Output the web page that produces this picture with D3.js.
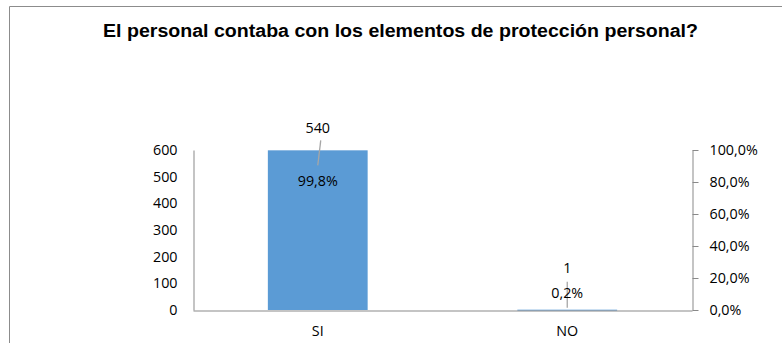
<!DOCTYPE html>
<html><head><meta charset="utf-8">
<script src="https://cdn.jsdelivr.net/npm/d3@7"></script>
<style>
html,body{margin:0;padding:0;background:#fff;}
svg{display:block;}
</style></head>
<body>
<script>
const categories = ["SI", "NO"];
const counts = [540, 1];
const percents = [99.8, 0.2];
const leftTicks = [0, 100, 200, 300, 400, 500, 600];
const rightTicks = [0, 20, 40, 60, 80, 100];
const title = "El personal contaba con los elementos de protección personal?";

const W = 782, H = 343;
const plot = {left: 193, right: 692, top: 150, bottom: 310};
const svg = d3.select("body").append("svg").attr("width", W).attr("height", H);

// frame
svg.append("path").attr("d", `M9.5,${H} V6.5 H${W}`).attr("fill","none").attr("stroke","#8c8c8c").attr("stroke-width",1);

svg.append("text").attr("x", 103).attr("y", 37)
  .attr("font-family","Liberation Sans, Arial, sans-serif").attr("font-weight","bold")
  .attr("font-size", 18).attr("fill","#000")
  .attr("textLength", 595).attr("lengthAdjust", "spacingAndGlyphs").text(title);

const x = d3.scaleBand().domain(categories).range([plot.left, plot.right]);
const yL = d3.scaleLinear().domain([0, 600]).range([plot.bottom, plot.top]);
const yR = d3.scaleLinear().domain([0, 100]).range([plot.bottom, plot.top]);
const font = "Open Sans, Liberation Sans, sans-serif";
const fs = 14.3;
const barW = x.step() * 0.4;

// bars
svg.selectAll("rect.bar").data(categories).enter().append("rect")
  .attr("x", d => x(d) + x.bandwidth()/2 - barW/2)
  .attr("width", barW)
  .attr("y", (d,i) => yR(percents[i]))
  .attr("height", (d,i) => Math.max(1, plot.bottom - yR(percents[i])))
  .attr("fill", "#5B9BD5");

// left axis
const gL = svg.append("g").attr("transform", `translate(${plot.left + 0.5},0)`)
  .call(d3.axisLeft(yL).tickValues(leftTicks).tickSize(0).tickPadding(16).tickFormat(d3.format("d")));
gL.select(".domain").attr("stroke","#898989");
gL.selectAll("text").attr("font-family", font).attr("font-size", fs).attr("fill","#000");

// right axis
const fmtPct = d => d.toFixed(1).replace(".", ",") + "%";
const gR = svg.append("g").attr("transform", `translate(${plot.right + 0.5},0)`)
  .call(d3.axisRight(yR).tickValues(rightTicks).tickSizeInner(6).tickSizeOuter(0).tickPadding(11).tickFormat(fmtPct));
gR.select(".domain").attr("stroke","#898989");
gR.selectAll("line").attr("stroke","#898989");
gR.selectAll("text").attr("font-family", font).attr("font-size", fs).attr("fill","#000");

// bottom axis
const gB = svg.append("g").attr("transform", `translate(0,${plot.bottom + 0.5})`)
  .call(d3.axisBottom(x).tickSize(0).tickPadding(15));
gB.select(".domain").attr("stroke","#898989");
gB.selectAll("text").attr("font-family", font).attr("font-size", fs).attr("fill","#000");

// data labels (manually placed in original)
const countLabelDy = [-23, -42];
const pctLabelDy = [30, -17];
const leader = [[[3,-10],[0,15]], [[0,-28],[0,-2]]];
categories.forEach((c, i) => {
  const cx = x(c) + x.bandwidth()/2;
  const top = yR(percents[i]);
  const l = leader[i];
  svg.append("line").attr("x1", cx + l[0][0]).attr("y1", top + l[0][1])
    .attr("x2", cx + l[1][0]).attr("y2", top + l[1][1])
    .attr("stroke", "#a6a6a6").attr("stroke-width", 1.3);
  svg.append("text").attr("x", cx).attr("y", top + countLabelDy[i]).attr("text-anchor","middle")
    .attr("dominant-baseline","central").attr("font-family", font).attr("font-size", fs).attr("fill","#000")
    .text(counts[i]);
  svg.append("text").attr("x", cx).attr("y", top + pctLabelDy[i]).attr("text-anchor","middle")
    .attr("dominant-baseline","central").attr("font-family", font).attr("font-size", fs).attr("fill","#000")
    .text(fmtPct(percents[i]));
});
</script>
</body></html>
